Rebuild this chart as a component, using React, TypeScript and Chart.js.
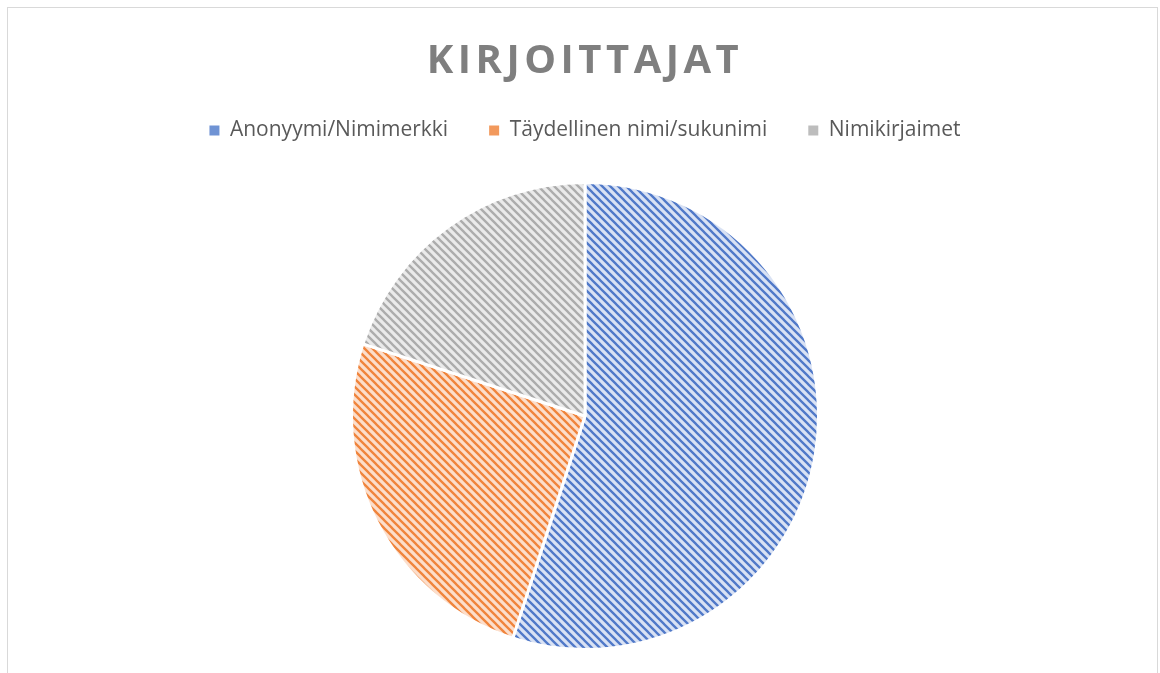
import React, { useEffect, useRef } from "react";
import { Chart, registerables } from "chart.js";

Chart.register(...registerables);

const categories = ["Anonyymi/Nimimerkki", "Täydellinen nimi/sukunimi", "Nimikirjaimet"];
const values = [55, 25, 20];
const stripeColors = ["#5079c8", "#f0843c", "#acacac"];
const fillColors = ["#d9e2f4", "#fcdecb", "#eaeaea"];
const legendColors = ["#6f93d4", "#f2995c", "#bdbdbd"];
const titleText = "KIRJOITTAJAT";

function makePattern(stripe: string, bg: string): CanvasPattern | string {
  const s = 8;
  const c = document.createElement("canvas");
  c.width = s;
  c.height = s;
  const ctx = c.getContext("2d");
  if (!ctx) return stripe;
  ctx.fillStyle = bg;
  ctx.fillRect(0, 0, s, s);
  ctx.strokeStyle = stripe;
  ctx.lineWidth = 2.3;
  ctx.beginPath();
  ctx.moveTo(-1, -1);
  ctx.lineTo(s + 1, s + 1);
  ctx.moveTo(-2, s - 2);
  ctx.lineTo(2, s + 2);
  ctx.moveTo(s - 2, -2);
  ctx.lineTo(s + 2, 2);
  ctx.stroke();
  const p = ctx.createPattern(c, "repeat");
  return p || stripe;
}

const legendSpacer = {
  id: "legendSpacer",
  beforeUpdate(chart: any) {
    const lg = chart.legend;
    if (lg && !lg._spacerPatched) {
      const orig = lg.fit.bind(lg);
      lg.fit = function () {
        orig();
        this.height += 30;
      };
      lg._spacerPatched = true;
    }
  },
};

export default function App() {
  const ref = useRef<HTMLCanvasElement | null>(null);
  useEffect(() => {
    if (!ref.current) return;
    const patterns = stripeColors.map((c, i) => makePattern(c, fillColors[i]));
    const chart = new Chart(ref.current, {
      type: "pie",
      data: {
        labels: categories,
        datasets: [
          {
            data: values,
            backgroundColor: patterns as any,
            borderColor: "#ffffff",
            borderWidth: 3,
          },
        ],
      },
      options: {
        animation: false,
        responsive: false,
        maintainAspectRatio: false,
        layout: { padding: { top: 79, bottom: 22, left: 10, right: 0 } },
        plugins: {
          title: { display: false },
          tooltip: { enabled: false },
          legend: {
            position: "top",
            labels: {
              color: "#595959",
              font: { family: "'Open Sans', 'Noto Sans', sans-serif", size: 21 },
              boxWidth: 10,
              boxHeight: 10,
              padding: 41,
              generateLabels(chart: any) {
                const items = Chart.overrides.pie.plugins.legend.labels.generateLabels(chart);
                return items.map((it: any, i: number) => ({
                  ...it,
                  fillStyle: legendColors[i],
                  lineWidth: 0,
                  strokeStyle: "rgba(0,0,0,0)",
                }));
              },
            },
          },
        },
      },
      plugins: [legendSpacer],
    });
    return () => chart.destroy();
  }, []);
  return (
    <div style={{ position: "absolute", left: 0, top: 0, width: 1160, height: 673, overflow: "hidden", background: "#fff" }}>
      <div
        style={{
          position: "absolute",
          left: 7,
          top: 7,
          width: 1151,
          height: 700,
          border: "1px solid #d9d9d9",
          boxSizing: "border-box",
        }}
      />
      <canvas ref={ref} width={1160} height={673} style={{ position: "absolute", left: 0, top: 0 }} />
      <div
        style={{
          position: "absolute",
          left: 0,
          top: 30,
          width: 1170,
          textAlign: "center",
          fontFamily: "'Open Sans', 'Noto Sans', sans-serif",
          fontWeight: 700,
          fontSize: 40,
          letterSpacing: 4.5,
          color: "#7f7f7f",
          lineHeight: "56px",
        }}
      >
        {titleText}
      </div>
    </div>
  );
}
